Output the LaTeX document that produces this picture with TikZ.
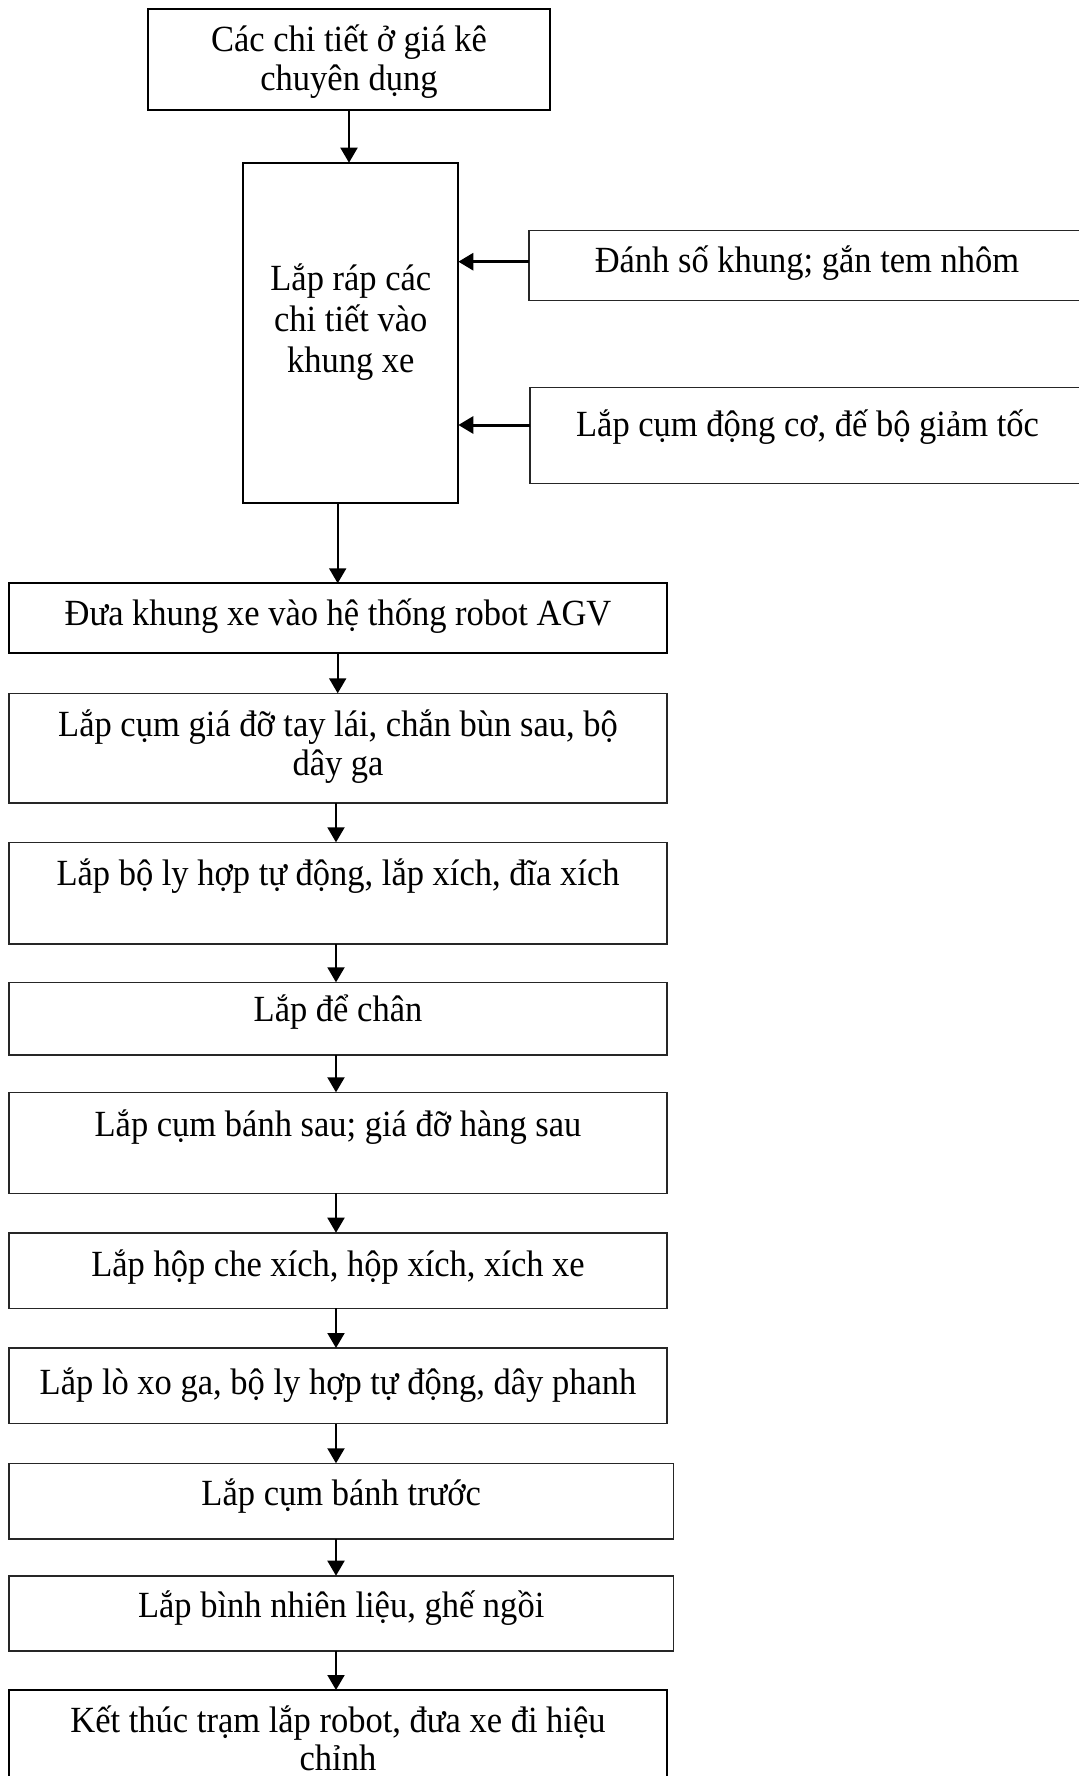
\documentclass[tikz,border=0pt]{standalone}
\usepackage{fontspec}
\setmainfont{Liberation Serif}[FakeStretch=0.935]
\usetikzlibrary{arrows.meta,calc}
\begin{document}
\begin{tikzpicture}[x=1pt,y=-1pt,
  box/.style={draw=black!85, rectangle, inner sep=0pt, outer sep=0pt,
    anchor=north west, line width=1.6pt},
  boxbold/.style={box, draw=black, line width=2.2pt},
  lbl/.style={anchor=base, align=center, inner sep=0pt,
    font=\fontsize{36.9}{38.5}\selectfont},
  flow/.style={line width=2pt, -{Triangle[width=17pt,length=15pt]}},
  feed/.style={line width=3pt, -{Triangle[width=17pt,length=15pt]}}]

% page
\fill[white] (0,0) rectangle (1078,1776);
\useasboundingbox (0,0) rectangle (1078,1776);

% top part (the base anchor of a multi-line label sits on its last line)
\node[boxbold, minimum width=402pt, minimum height=101pt] (b1) at (148,9) {};
\node[lbl] (t1) at ([yshift=-81.2pt]b1.north) {Các chi tiết ở giá kê\\chuyên dụng};

\node[box, draw=black, line width=1.8pt, minimum width=215pt, minimum height=340pt] (b2) at (243.3,162.7) {};
\node[lbl, font=\fontsize{36.9}{40.8}\selectfont] (t2) at ([yshift=-209.6pt]b2.north) {Lắp ráp các\\chi tiết vào\\khung xe};

\node[box, minimum width=556pt, minimum height=70pt] (r1) at (529,230.5) {};
\node[lbl] (tr1) at ([yshift=-42.5pt]r1.north) {Đánh số khung; gắn tem nhôm};

\node[box, minimum width=555pt, minimum height=96pt] (r2) at (530,387.5) {};
\node[lbl] (tr2) at ([yshift=-48.5pt]r2.north) {Lắp cụm động cơ, đế bộ giảm tốc};

% main column
\node[boxbold, minimum width=658pt, minimum height=70pt] (b3) at (9,583.3) {};
\node[lbl] (t3) at ([yshift=-42pt]b3.north) {Đưa khung xe vào hệ thống robot AGV};

\node[box, minimum width=658pt, minimum height=109.5pt] (b4) at (9,693.3) {};
\node[lbl] (t4) at ([yshift=-81.7pt]b4.north) {Lắp cụm giá đỡ tay lái, chắn bùn sau, bộ\\dây ga};

\node[box, minimum width=658pt, minimum height=101.7pt] (b5) at (9,842.3) {};
\node[lbl] (t5) at ([yshift=-43pt]b5.north) {Lắp bộ ly hợp tự động, lắp xích, đĩa xích};

\node[box, minimum width=658pt, minimum height=72.7pt] (b6) at (9,982.3) {};
\node[lbl] (t6) at ([yshift=-39.5pt]b6.north) {Lắp để chân};

\node[box, minimum width=658pt, minimum height=101pt] (b7) at (9,1092.3) {};
\node[lbl] (t7) at ([yshift=-44pt]b7.north) {Lắp cụm bánh sau; giá đỡ hàng sau};

\node[box, minimum width=658pt, minimum height=75.6pt] (b8) at (9,1232.7) {};
\node[lbl] (t8) at ([yshift=-43.5pt]b8.north) {Lắp hộp che xích, hộp xích, xích xe};

\node[box, minimum width=658pt, minimum height=75.5pt] (b9) at (9,1348) {};
\node[lbl] (t9) at ([yshift=-46pt]b9.north) {Lắp lò xo ga, bộ ly hợp tự động, dây phanh};

\node[box, minimum width=664.3pt, minimum height=75.7pt] (b10) at (9,1463.3) {};
\node[lbl] (t10) at ([yshift=-42.5pt]b10.north) {Lắp cụm bánh trước};

\node[box, minimum width=664.3pt, minimum height=75pt] (b11) at (9,1575.7) {};
\node[lbl] (t11) at ([yshift=-41.5pt]b11.north) {Lắp bình nhiên liệu, ghế ngồi};

\node[boxbold, minimum width=658pt, minimum height=110pt] (b12) at (9,1690) {};
\node[lbl] (t12) at ([yshift=-80.5pt]b12.north) {Kết thúc trạm lắp robot, đưa xe đi hiệu\\chỉnh};

% connector guides
\coordinate (ax) at (336,0);
\coordinate (ax2) at (337.7,0);
\coordinate (f1) at (0,261.7);
\coordinate (f2) at (0,425);

% connectors
\draw[flow] (b1.south) -- (b1.south |- b2.north);
\draw[feed] (r1.west |- f1) -- (b2.east |- f1);
\draw[feed] (r2.west |- f2) -- (b2.east |- f2);
\draw[flow] (b2.south -| ax2) -- (b3.north -| ax2);
\draw[flow] (b3.south -| ax2) -- (b4.north -| ax2);
\draw[flow] (b4.south -| ax) -- (b5.north -| ax);
\draw[flow] (b5.south -| ax) -- (b6.north -| ax);
\draw[flow] (b6.south -| ax) -- (b7.north -| ax);
\draw[flow] (b7.south -| ax) -- (b8.north -| ax);
\draw[flow] (b8.south -| ax) -- (b9.north -| ax);
\draw[flow] (b9.south -| ax) -- (b10.north -| ax);
\draw[flow] (b10.south -| ax) -- (b11.north -| ax);
\draw[flow] (b11.south -| ax) -- (b12.north -| ax);
\end{tikzpicture}
\end{document}
